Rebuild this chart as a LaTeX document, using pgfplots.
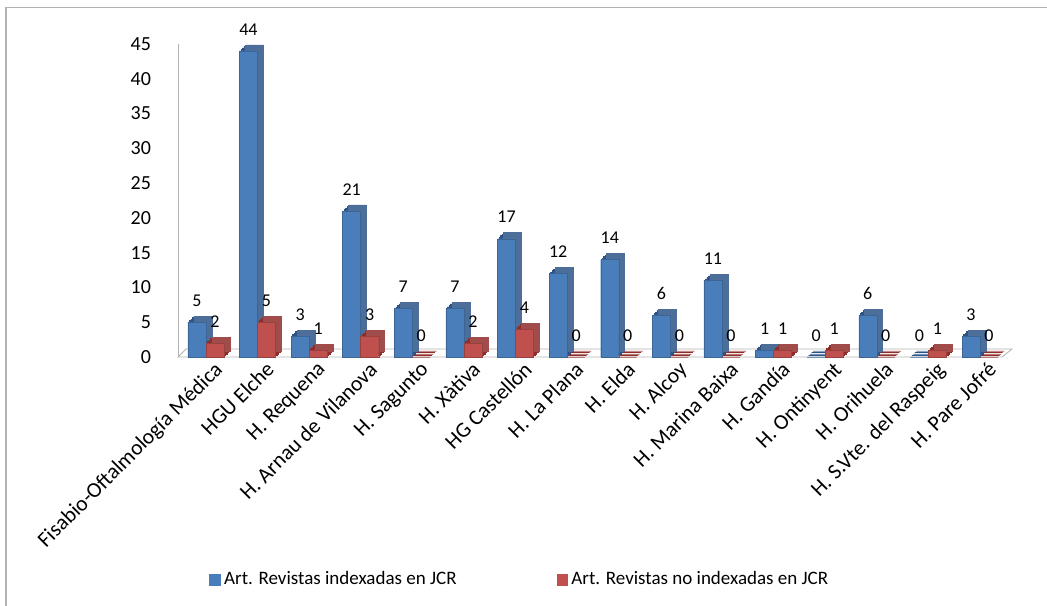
\documentclass[border=0pt]{standalone}
\usepackage{pgfplots}
\pgfplotsset{compat=1.18}
\usepackage{pgfplotstable}
\usepackage{fontspec}
\setmainfont{Carlito}
\definecolor{bfront}{HTML}{4A7EBB}
\definecolor{bside}{HTML}{2C5487}
\definecolor{rfront}{HTML}{C0504D}
\definecolor{rside}{HTML}{8E2D2A}

\pgfplotstableread{
x blue red
0 5 2
1 44 5
2 3 1
3 21 3
4 7 0
5 7 2
6 17 4
7 12 0
8 14 0
9 6 0
10 11 0
11 1 1
12 0 1
13 6 0
14 0 1
15 3 0
}\data

\begin{document}
\begin{tikzpicture}[font=\fontsize{9}{10}\selectfont]
\begin{axis}[
  scale only axis, width=417pt, height=156.5pt,
  xmin=-0.54, xmax=15.62, ymin=0, ymax=45,
  axis y line*=left, axis x line*=bottom,
  x axis line style={draw=none},
  y axis line style={draw=gray!60},
  ytick={0,5,...,45},
  xtick={0,...,15},
  xticklabels={Fisabio-Oftalmología Médica, HGU Elche, H. Requena, H. Arnau de Vilanova, H. Sagunto, H. Xàtiva, HG Castellón, H. La Plana, H. Elda, H. Alcoy, H. Marina Baixa, H. Gandía, H. Ontinyent, H. Orihuela, H. S.Vte. del Raspeig, H. Pare Jofré},
  major tick length=0pt,
  xticklabel style={rotate=45, anchor=north east, inner sep=1pt, xshift=2.5pt, yshift=-2.5pt, font=\fontsize{10.8}{12}\selectfont},
  yticklabel style={xshift=-10pt, font=\fontsize{10}{11}\selectfont},
  /pgf/number format/assume math mode=true,
  legend style={at={(axis description cs:0.411,-0.712)}, anchor=center, draw=none, fill=none,
    legend columns=2, font=\fontsize{9.5}{11}\selectfont,
    /tikz/every even column/.append style={column sep=48pt}},
  clip=false,
]
% floor
\draw[gray!60] (axis cs:-0.54,0) -- ([xshift=-5pt]axis cs:15.62,0) -- ([yshift=4pt]axis cs:15.62,0) -- ([xshift=4pt,yshift=4pt]axis cs:-0.54,0) -- cycle;
% blue depth
\addplot[ybar, bar width=9pt, bar shift=-3.75pt, yshift=0.75pt, fill=bside, draw=bside, line width=0.3pt, forget plot] table[x=x,y=blue]{\data};
\addplot[ybar, bar width=9pt, bar shift=-3.0pt, yshift=1.5pt, fill=bside, draw=bside, line width=0.3pt, forget plot] table[x=x,y=blue]{\data};
\addplot[ybar, bar width=9pt, bar shift=-2.25pt, yshift=2.25pt, fill=bside, draw=bside, line width=0.3pt, forget plot] table[x=x,y=blue]{\data};
\addplot[ybar, bar width=9pt, bar shift=-1.5pt, yshift=3pt, fill=bside!85!white, draw=bside!85!white, line width=0.3pt, forget plot] table[x=x,y=blue]{\data};
% blue face
\addplot[ybar, bar width=9pt, bar shift=-4.5pt, fill=bfront, draw=bfront!80!black, line width=0.2pt,
  nodes near coords, nodes near coords style={text=black, yshift=4.5pt, xshift=-4.5pt},
  legend image code/.code={\fill[bfront] (0pt,-2.6pt) rectangle (5.2pt,2.6pt);}]
  table[x=x,y=blue]{\data};
\addlegendentry{Art. Revistas indexadas en JCR}
% red depth
\addplot[ybar, bar width=9pt, bar shift=5.25pt, yshift=0.75pt, fill=rside, draw=rside, line width=0.3pt, forget plot] table[x=x,y=red]{\data};
\addplot[ybar, bar width=9pt, bar shift=6.0pt, yshift=1.5pt, fill=rside, draw=rside, line width=0.3pt, forget plot] table[x=x,y=red]{\data};
\addplot[ybar, bar width=9pt, bar shift=6.75pt, yshift=2.25pt, fill=rside, draw=rside, line width=0.3pt, forget plot] table[x=x,y=red]{\data};
\addplot[ybar, bar width=9pt, bar shift=7.5pt, yshift=3pt, fill=rside!85!white, draw=rside!85!white, line width=0.3pt, forget plot] table[x=x,y=red]{\data};
% red face
\addplot[ybar, bar width=9pt, bar shift=4.5pt, fill=rfront, draw=rfront!80!black, line width=0.2pt,
  nodes near coords, nodes near coords style={text=black, yshift=4.5pt, xshift=4.5pt},
  legend image code/.code={\fill[rfront] (0pt,-2.6pt) rectangle (5.2pt,2.6pt);}]
  table[x=x,y=red]{\data};
\addlegendentry{Art. Revistas no indexadas en JCR}
\end{axis}
\draw[gray!60, line width=0.6pt] ([xshift=-86pt,yshift=-124.5pt]current axis.south west) -- ([xshift=-86pt,yshift=18.25pt]current axis.north west) -- ([xshift=17.5pt,yshift=18.25pt]current axis.north east);
\pgfresetboundingbox
\path ([xshift=-89pt,yshift=-124.5pt]current axis.south west) rectangle ([xshift=17.5pt,yshift=22pt]current axis.north east);
\end{tikzpicture}
\end{document}
